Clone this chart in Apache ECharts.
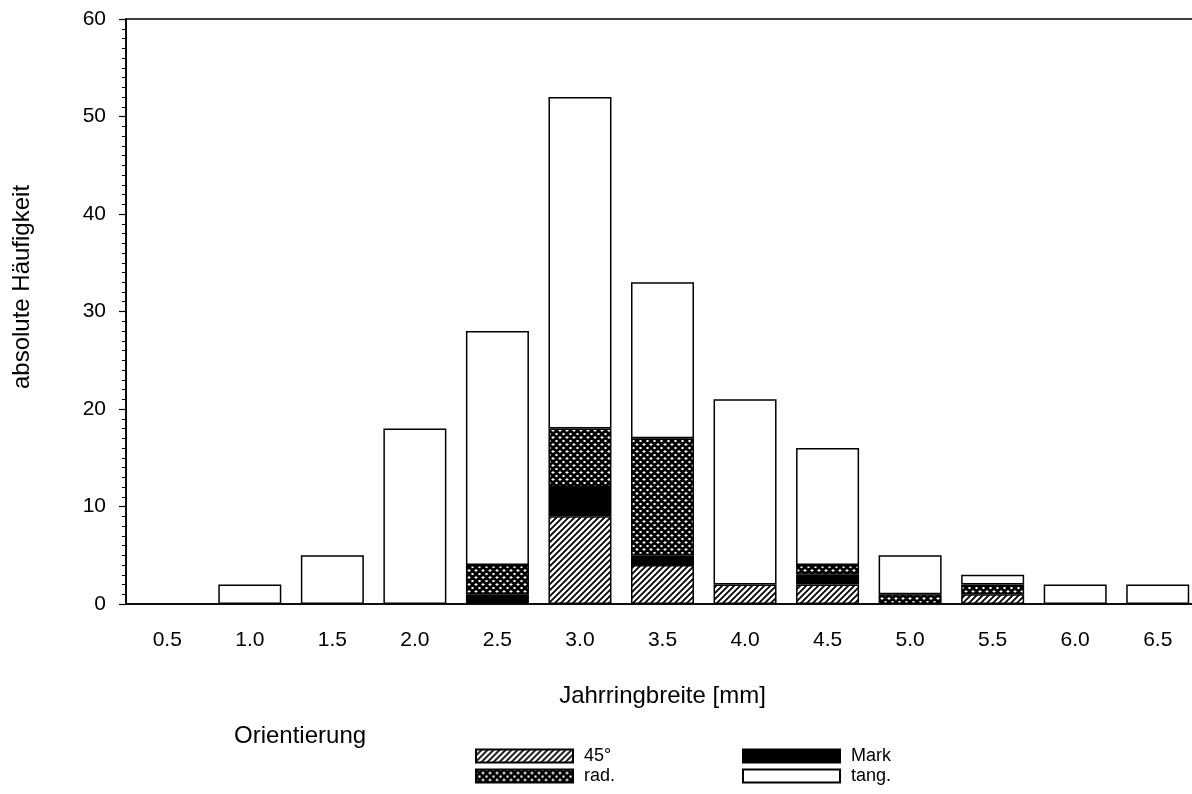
<!DOCTYPE html>
<html>
<head>
<meta charset="utf-8">
<script src="https://cdn.jsdelivr.net/npm/echarts@6/dist/echarts.min.js"></script>
<style>
html,body{margin:0;padding:0;background:#fff;overflow:hidden;width:1192px;height:794px;}
#chart{width:1204px;height:794px;}
</style>
</head>
<body>
<div id="chart"></div>
<script>
// ---- data ----
const categories = ['0.5','1.0','1.5','2.0','2.5','3.0','3.5','4.0','4.5','5.0','5.5','6.0','6.5'];
const deg45 = [0,0,0,0,0,9,4,2,2,0,1,0,0];
const mark  = [0,0,0,0,1,3,1,0,1,0,0,0,0];
const rad   = [0,0,0,0,3,6,12,0,1,1,1,0,0];
const tang  = [0,2,5,18,24,34,16,19,12,4,1,2,2];
const seriesNames = ['45°','Mark','rad.','tang.'];
const yTicks = [0,10,20,30,40,50,60];

// ---- patterns ----
function hatchCanvas(){
  const s = 6, c = document.createElement('canvas');
  c.width = s; c.height = s;
  const g = c.getContext('2d');
  g.fillStyle = '#fff'; g.fillRect(0,0,s,s);
  g.strokeStyle = '#000'; g.lineWidth = 1.8;
  g.beginPath();
  g.moveTo(-1, s+1); g.lineTo(s+1, -1);
  g.moveTo(-1, 1); g.lineTo(1, -1);
  g.moveTo(s-1, s+1); g.lineTo(s+1, s-1);
  g.stroke();
  return c;
}
function crossCanvas(){
  const s = 7, c = document.createElement('canvas');
  c.width = s; c.height = s;
  const g = c.getContext('2d');
  g.fillStyle = '#fff'; g.fillRect(0,0,s,s);
  g.strokeStyle = '#000'; g.lineWidth = 2.8;
  g.beginPath();
  g.moveTo(-1, s+1); g.lineTo(s+1, -1);
  g.moveTo(-1, 1); g.lineTo(1, -1);
  g.moveTo(s-1, s+1); g.lineTo(s+1, s-1);
  g.moveTo(-1, -1); g.lineTo(s+1, s+1);
  g.moveTo(-1, s-1); g.lineTo(1, s+1);
  g.moveTo(s-1, -1); g.lineTo(s+1, 1);
  g.stroke();
  return c;
}
const fills = [
  {image: hatchCanvas(), repeat: 'repeat'},
  '#000',
  {image: crossCanvas(), repeat: 'repeat'},
  '#fff'
];
const dataSets = [deg45, mark, rad, tang];
const FONT = 'Liberation Sans, Arial, sans-serif';

// legend placement: [left, top] per series
const legendPos = {'45°': [475, 747], 'rad.': [475, 767], 'Mark': [742, 747], 'tang.': [742, 767]};
const legends = seriesNames.map(n => ({
  data: [n], left: legendPos[n][0], top: legendPos[n][1],
  itemWidth: 97, itemHeight: 13, icon: 'rect', padding: 0,
  textStyle: {color: '#000', fontSize: 18, fontFamily: FONT, padding: [0,0,0,6]},
  selectedMode: false
}));

const chart = echarts.init(document.getElementById('chart'), null, {renderer: 'canvas'});
const option = {
  animation: false,
  backgroundColor: '#fff',
  grid: {left: 126, top: 19, width: 1073, height: 585, show: true, borderColor: '#000', borderWidth: 1.5, backgroundColor: 'transparent'},
  xAxis: {
    type: 'category',
    data: categories,
    axisLine: {lineStyle: {color: '#000', width: 1.5}},
    axisTick: {show: false},
    axisLabel: {color: '#000', fontSize: 21, fontFamily: FONT, margin: 26},
    name: 'Jahrringbreite [mm]',
    nameLocation: 'middle',
    nameGap: 80,
    nameTextStyle: {color: '#000', fontSize: 24, fontFamily: FONT}
  },
  yAxis: {
    type: 'value',
    min: yTicks[0], max: yTicks[yTicks.length-1], interval: 10,
    axisLine: {show: true, lineStyle: {color: '#000', width: 1.5}},
    axisTick: {show: true, length: 7, lineStyle: {color: '#000', width: 1.2}},
    minorTick: {show: true, splitNumber: 10, length: 4, lineStyle: {color: '#000', width: 1}},
    splitLine: {show: false},
    axisLabel: {color: '#000', fontSize: 21, fontFamily: FONT, margin: 20}
  },
  title: {
    text: 'Orientierung', left: 229, top: 719,
    textStyle: {color: '#000', fontSize: 24, fontWeight: 'normal', fontFamily: FONT}
  },
  legend: legends,
  graphic: [{
    type: 'text',
    x: 22, y: 287, rotation: Math.PI/2,
    style: {text: 'absolute Häufigkeit', fill: '#000', font: '24px ' + FONT, align: 'center', verticalAlign: 'middle'}
  }],
  series: seriesNames.map((n, i) => ({
    name: n,
    type: 'bar',
    stack: 'total',
    barWidth: 63,
    data: dataSets[i].map(v => v === 0 ? '-' : v),
    itemStyle: {color: fills[i], borderColor: '#000', borderWidth: 1.5},
    emphasis: {disabled: true}
  }))
};
chart.setOption(option);
</script>
</body>
</html>
